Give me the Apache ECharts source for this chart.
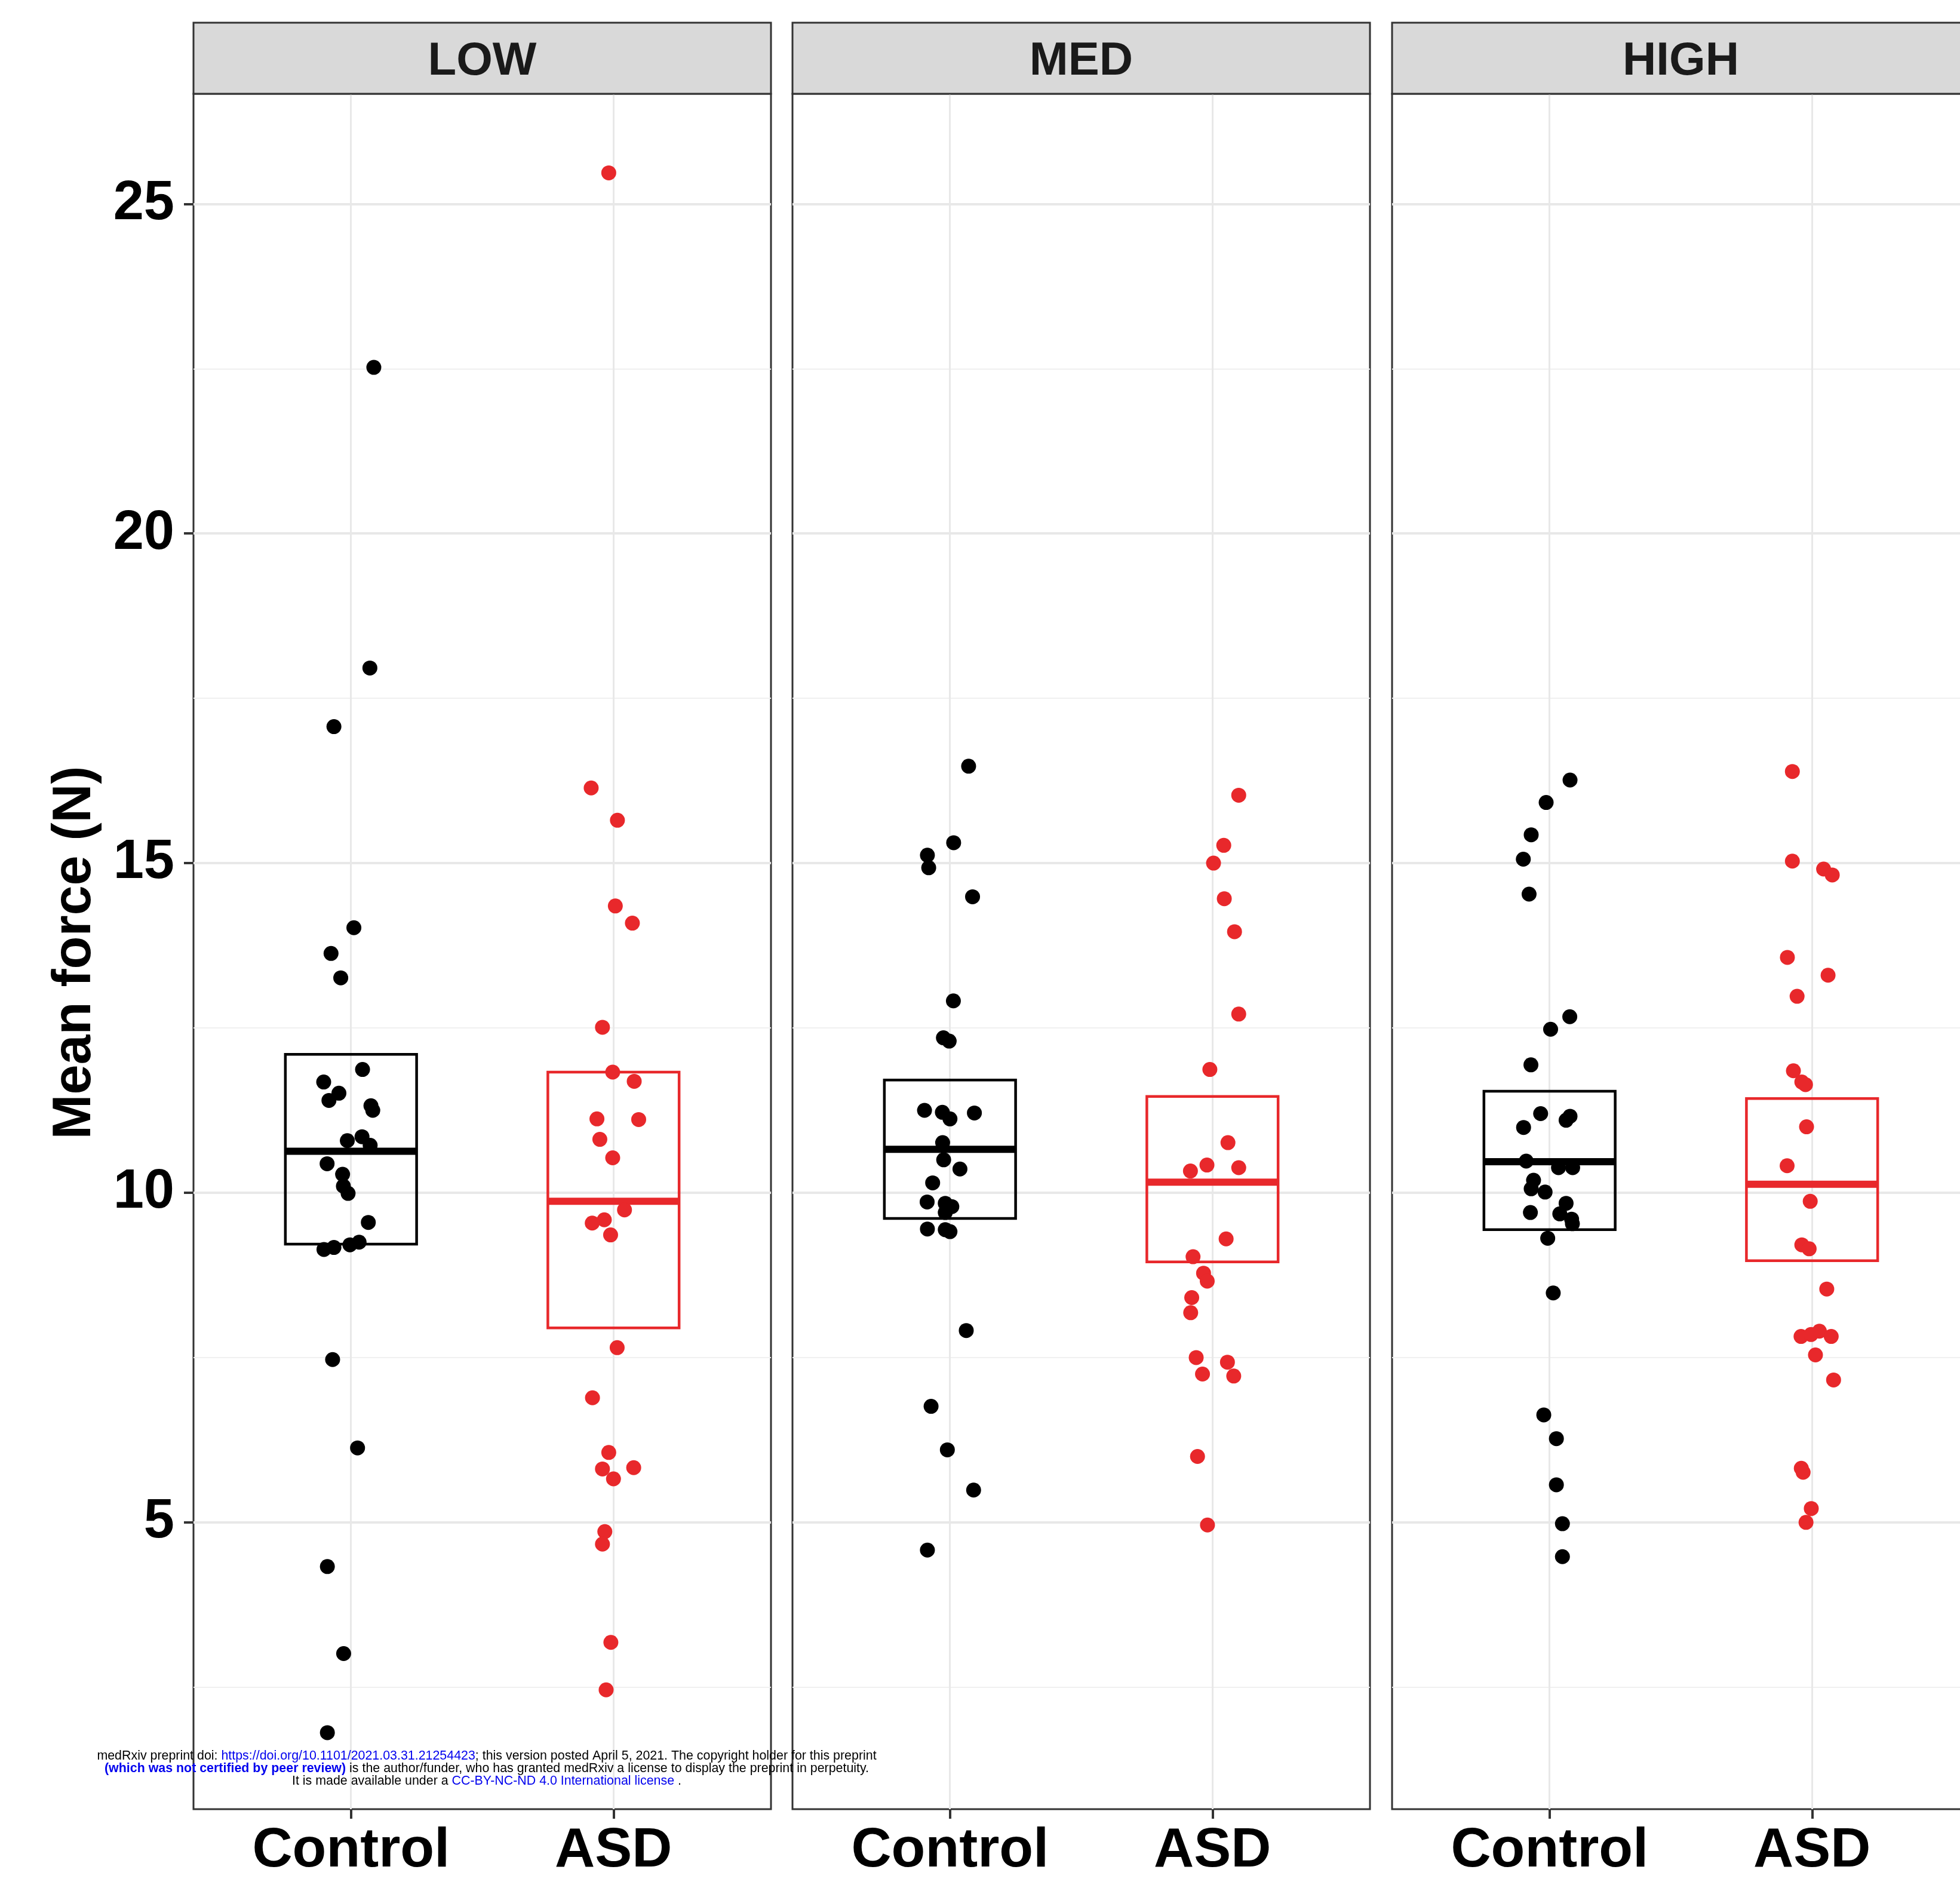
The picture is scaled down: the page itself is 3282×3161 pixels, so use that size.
<!DOCTYPE html>
<html><head><meta charset="utf-8">
<script src="https://cdn.jsdelivr.net/npm/echarts@6/dist/echarts.min.js"></script>
<style>html,body{margin:0;padding:0;background:#fff}#chart{width:3282px;height:3161px}</style>
</head><body><div id="chart"></div>
<script>
// ---------- data ----------
const panels = ['LOW', 'MED', 'HIGH'];
const groups = ['Control', 'ASD'];
const yTicks = [5, 10, 15, 20, 25];
const yMinorGrid = [2.5, 7.5, 12.5, 17.5, 22.5];
const xTicks = [1, 2];

// points: [x (1 = Control, 2 = ASD, with jitter), mean force]
const lowControl = [[1.011,14.02],[0.924,13.63],[0.961,13.26],[1.044,11.87],[0.896,11.68],[0.954,11.51],[0.916,11.40],[1.076,11.32],[1.083,11.25],[1.042,10.85],[0.986,10.79],[1.073,10.72],[0.909,10.44],[0.968,10.28],[0.971,10.10],[0.989,9.99],[1.066,9.55],[1.031,9.25],[0.996,9.21],[0.935,9.17],[0.897,9.14],[0.930,7.47],[1.087,22.52],[1.072,17.96],[0.935,17.07],[1.025,6.13],[0.910,4.33],[0.972,3.01],[0.910,1.81]];
const lowASD = [[2.007,14.35],[2.072,14.09],[1.958,12.51],[1.997,11.83],[2.079,11.69],[1.937,11.12],[2.096,11.11],[1.948,10.81],[1.997,10.53],[2.042,9.74],[1.965,9.59],[1.919,9.54],[1.989,9.36],[2.014,7.65],[1.982,25.47],[1.915,16.14],[2.015,15.65],[1.920,6.89],[1.982,6.06],[1.958,5.81],[2.077,5.83],[2.000,5.66],[1.967,4.86],[1.958,4.67],[1.990,3.18],[1.972,2.46]];
const medControl = [[1.071,16.47],[1.014,15.31],[0.914,15.12],[0.919,14.93],[1.086,14.49],[1.013,12.91],[0.975,12.35],[0.997,12.30],[0.903,11.25],[0.971,11.22],[1.000,11.12],[1.093,11.21],[0.972,10.76],[0.976,10.50],[1.038,10.36],[0.934,10.15],[0.913,9.86],[0.982,9.84],[1.007,9.79],[0.982,9.70],[0.914,9.45],[0.982,9.44],[1.000,9.41],[1.062,7.91],[0.928,6.76],[0.990,6.10],[1.090,5.49],[0.914,4.58]];
const medASD = [[2.100,16.03],[2.043,15.27],[2.004,15.00],[2.045,14.46],[2.084,13.96],[2.100,12.71],[1.990,11.87],[2.059,10.76],[1.979,10.42],[1.916,10.33],[2.100,10.38],[2.052,9.30],[1.926,9.03],[1.966,8.78],[1.980,8.66],[1.921,8.41],[1.917,8.18],[1.938,7.50],[2.057,7.43],[1.962,7.25],[2.081,7.22],[1.943,6.00],[1.981,4.96]];
const highControl = [[1.078,16.26],[0.987,15.92],[0.930,15.43],[0.900,15.06],[0.922,14.53],[1.077,12.67],[1.004,12.48],[0.929,11.94],[0.966,11.20],[1.063,11.10],[1.078,11.16],[0.901,10.99],[0.911,10.48],[1.034,10.38],[1.088,10.38],[0.939,10.19],[0.930,10.06],[0.983,10.01],[1.063,9.84],[0.927,9.70],[1.039,9.68],[1.084,9.60],[1.087,9.53],[0.993,9.31],[1.014,8.48],[0.978,6.63],[1.026,6.27],[1.026,5.57],[1.049,4.98],[1.049,4.48]];
const highASD = [[1.925,16.39],[1.925,15.03],[2.044,14.91],[2.077,14.82],[1.906,13.57],[2.061,13.30],[1.943,12.98],[1.929,11.85],[1.961,11.68],[1.975,11.64],[1.979,11.00],[1.905,10.41],[1.993,9.87],[1.961,9.21],[1.989,9.15],[2.056,8.54],[1.958,7.82],[1.996,7.85],[2.028,7.90],[2.073,7.82],[2.013,7.54],[2.082,7.16],[1.959,5.82],[1.966,5.76],[1.997,5.21],[1.977,5.00]];

// boxes: [lower, middle, upper]
const lowControlBox = [9.22, 10.63, 12.10];
const lowASDBox = [7.95, 9.87, 11.83];
const medControlBox = [9.61, 10.66, 11.71];
const medASDBox = [8.95, 10.16, 11.46];
const highControlBox = [9.44, 10.47, 11.54];
const highASDBox = [8.97, 10.13, 11.43];

const watermark1 = ['medRxiv preprint doi: ', 'https://doi.org/10.1101/2021.03.31.21254423', '; this version posted April 5, 2021. The copyright holder for this preprint'];
const watermark2 = ['(which was not certified by peer review)', ' is the author/funder, who has granted medRxiv a license to display the preprint in perpetuity.'];
const watermark3 = ['It is made available under a ', 'CC-BY-NC-ND 4.0 International license', ' .'];

// ---------- layout / style ----------
const FONT = 'Liberation Sans';
const RED = '#e8282b';
const BLACK = '#000000';
const gridLefts = [324, 1327, 2331];
const gridTop = 157, gridW = 967, gridH = 2872;
const stripTop = 38;
const panelPoints = [[lowControl, lowASD], [medControl, medASD], [highControl, highASD]];
const panelBoxes = [[lowControlBox, lowASDBox], [medControlBox, medASDBox], [highControlBox, highASDBox]];

const grid = [], xAxis = [], yAxis = [], series = [], graphic = [];

panels.forEach((name, i) => {
  grid.push({left: gridLefts[i], top: gridTop, width: gridW, height: gridH,
    outerBoundsMode: 'none', containLabel: false,
    show: true, backgroundColor: '#fff', borderColor: '#333333', borderWidth: 3});
  xAxis.push({gridIndex: i, type: 'value', min: 0.4, max: 2.6,
    axisLine: {show: false}, splitLine: {show: false},
    axisTick: {show: true, customValues: xTicks, length: 16, lineStyle: {color: '#333', width: 4}},
    axisLabel: {show: true, customValues: xTicks, formatter: v => groups[Math.round(v) - 1],
      fontSize: 93, fontWeight: 'bold', color: '#000', fontFamily: FONT, margin: 24}});
  yAxis.push({gridIndex: i, type: 'value', min: 0.65, max: 26.67, splitNumber: 5,
    axisLine: {show: false}, splitLine: {show: false},
    axisTick: {show: i === 0, customValues: yTicks, length: 16, lineStyle: {color: '#333', width: 4}},
    axisLabel: {show: i === 0, customValues: yTicks, fontSize: 92, fontWeight: 'bold',
      color: '#000', fontFamily: FONT, margin: 32}});

  // grid lines through the axes' scales
  const mlData = [];
  yMinorGrid.forEach(v => mlData.push({yAxis: v, lineStyle: {color: '#f0f0f0', width: 2, type: 'solid'}}));
  yTicks.forEach(v => mlData.push({yAxis: v, lineStyle: {color: '#e8e8e8', width: 4, type: 'solid'}}));
  xTicks.forEach(v => mlData.push({xAxis: v, lineStyle: {color: '#e8e8e8', width: 3, type: 'solid'}}));
  series.push({type: 'scatter', xAxisIndex: i, yAxisIndex: i, data: [], silent: true, z: 1,
    markLine: {silent: true, z: 1, symbol: ['none', 'none'], label: {show: false},
      animation: false, data: mlData}});

  // boxes
  series.push({type: 'custom', xAxisIndex: i, yAxisIndex: i, z: 3, silent: true,
    data: panelBoxes[i].map((b, g) => [g + 1, b[0], b[1], b[2]]),
    encode: {x: 0, y: [1, 2, 3]},
    renderItem: (params, api) => {
      const g = api.value(0), lo = api.value(1), mid = api.value(2), hi = api.value(3);
      const a = api.coord([g - 0.25, hi]), b = api.coord([g + 0.25, lo]);
      const m1 = api.coord([g - 0.25, mid]), m2 = api.coord([g + 0.25, mid]);
      const c = g === 1 ? BLACK : RED;
      return {type: 'group', children: [
        {type: 'rect', shape: {x: a[0], y: a[1], width: b[0] - a[0], height: b[1] - a[1]},
          style: {fill: 'none', stroke: c, lineWidth: 4.5}},
        {type: 'line', shape: {x1: m1[0], y1: m1[1], x2: m2[0], y2: m2[1]},
          style: {stroke: c, lineWidth: 12}}
      ]};
    }});

  // points
  panelPoints[i].forEach((pts, g) => {
    series.push({type: 'scatter', xAxisIndex: i, yAxisIndex: i, z: 4, silent: true,
      data: pts, symbol: 'circle', symbolSize: 25,
      itemStyle: {color: g === 0 ? BLACK : RED, opacity: 1}});
  });

  // facet strip
  graphic.push({type: 'rect', z: 10, shape: {x: gridLefts[i], y: stripTop, width: gridW, height: gridTop - stripTop},
    style: {fill: '#d9d9d9', stroke: '#333333', lineWidth: 3}});
  graphic.push({type: 'text', z: 11, x: gridLefts[i] + gridW / 2, y: (stripTop + gridTop) / 2 + 6,
    style: {text: name, align: 'center', verticalAlign: 'middle',
      font: 'bold 78px "' + FONT + '"', fill: '#1a1a1a'}});
});

// y-axis title
graphic.push({type: 'text', z: 11, x: 126, y: 1595, rotation: Math.PI / 2,
  style: {text: 'Mean force (N)', align: 'center', verticalAlign: 'middle',
    font: 'bold 90px "' + FONT + '"', fill: '#000'}});

// preprint watermark
const WM = 21.4;
const wmRich = {
  k: {fontFamily: FONT, fontSize: WM, fill: '#000000'},
  b: {fontFamily: FONT, fontSize: WM, fill: '#0000ee'},
  bb: {fontFamily: FONT, fontSize: WM, fill: '#0000ee', fontWeight: 'bold'}
};
const wmLines = [
  '{k|' + watermark1[0] + '}{b|' + watermark1[1] + '}{k|' + watermark1[2] + '}',
  '{bb|' + watermark2[0] + '}{k|' + watermark2[1] + '}',
  '{k|' + watermark3[0] + '}{b|' + watermark3[1] + '}{k|' + watermark3[2] + '}'
];
[2940, 2961, 2982].forEach((y, j) => {
  graphic.push({type: 'text', z: 20, x: 815, y: y,
    style: {text: wmLines[j], rich: wmRich, align: 'center', verticalAlign: 'middle'}});
});

const chart = echarts.init(document.getElementById('chart'), null, {renderer: 'canvas'});
chart.setOption({animation: false, backgroundColor: '#fff', grid, xAxis, yAxis, series, graphic});
</script></body></html>
